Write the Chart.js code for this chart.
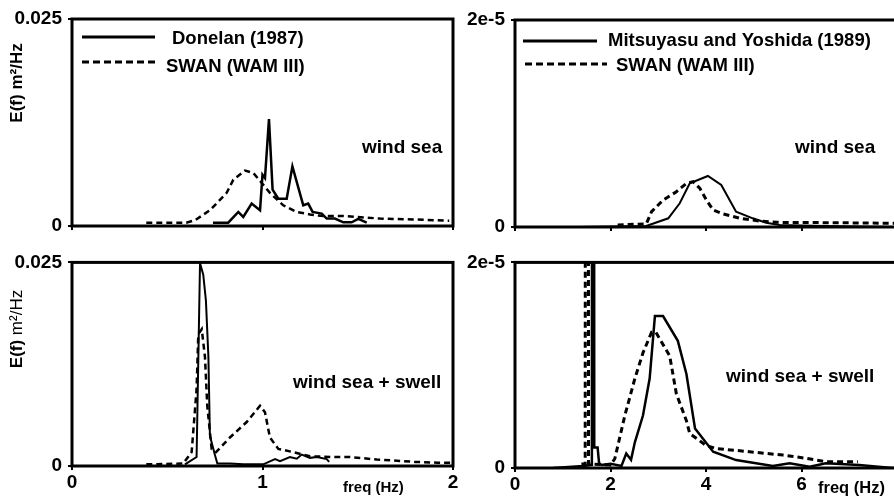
<!DOCTYPE html>
<html>
<head>
<meta charset="utf-8">
<script src="https://cdn.jsdelivr.net/npm/chart.js@4.4.0/dist/chart.umd.min.js"></script>
<style>
html, body { margin: 0; padding: 0; background: #fff; overflow: hidden; width: 894px; height: 498px; }
canvas { position: absolute; }
</style>
</head>
<body>
<canvas id="tl" width="460" height="245" style="left:0;top:0"></canvas>
<canvas id="tr" width="460" height="245" style="left:440px;top:0"></canvas>
<canvas id="bl" width="460" height="253" style="left:0;top:245px"></canvas>
<canvas id="br" width="460" height="253" style="left:440px;top:245px"></canvas>
<script>
// Donelan (1987) case, E(f) in m2/Hz
// wind sea
var dWindFreq = [0.74, 0.82, 0.873, 0.899, 0.943, 0.987, 1.0, 1.013, 1.034, 1.053, 1.083, 1.127, 1.157, 1.214, 1.24, 1.263, 1.311, 1.337, 1.38, 1.424, 1.468, 1.503, 1.547];
var dWindE = [0.0004, 0.0004, 0.0017, 0.0011, 0.0027, 0.0019, 0.0062, 0.0058, 0.0129, 0.0044, 0.0033, 0.0033, 0.0072, 0.0025, 0.0027, 0.0017, 0.0015, 0.0009, 0.0009, 0.00045, 0.00045, 0.00085, 0.0004];
var dSwanWindFreq = [0.39, 0.60, 0.646, 0.724, 0.812, 0.847, 0.908, 0.952, 0.996, 1.039, 1.109, 1.18, 1.249, 1.319, 1.424, 1.617, 1.79, 1.98];
var dSwanWindE = [0.0004, 0.0004, 0.0007, 0.0019, 0.0040, 0.0056, 0.0067, 0.0064, 0.0052, 0.0040, 0.0025, 0.0017, 0.0014, 0.0012, 0.0012, 0.0009, 0.0008, 0.00064];
// wind sea + swell
var dSwellFreq = [0.593, 0.654, 0.672, 0.689, 0.703, 0.716, 0.724, 0.751, 0.763, 0.829, 0.9, 1.004, 1.066, 1.092, 1.144, 1.18, 1.206, 1.249, 1.285, 1.337, 1.35];
var dSwellE = [0.0002, 0.0011, 0.0249, 0.0235, 0.0203, 0.0134, 0.0037, 0.0013, 0.0003, 0.0003, 0.0002, 0.0002, 0.00085, 0.0006, 0.0011, 0.0009, 0.0014, 0.0010, 0.0011, 0.00085, 0.0005];
var dSwanSwellFreq = [0.39, 0.584, 0.628, 0.654, 0.663, 0.681, 0.698, 0.71, 0.733, 0.756, 0.829, 0.917, 0.987, 1.013, 1.039, 1.083, 1.162, 1.249, 1.37, 1.46, 1.60, 1.80, 1.92, 1.99];
var dSwanSwellE = [0.0002, 0.0003, 0.0017, 0.0094, 0.0162, 0.0168, 0.0134, 0.0074, 0.0021, 0.0017, 0.0035, 0.0054, 0.0074, 0.0066, 0.0035, 0.0021, 0.0017, 0.0012, 0.0011, 0.0011, 0.0008, 0.0005, 0.0004, 0.0004];

// Mitsuyasu and Yoshida (1989) case, E(f) in units of 1e-5 m2/Hz
// wind sea
var mWindFreq = [1.3, 2.75, 3.21, 3.45, 3.66, 4.04, 4.32, 4.63, 4.98, 5.26, 5.54, 6.5, 8.0];
var mWindE = [0, 0.01, 0.084, 0.229, 0.422, 0.493, 0.406, 0.148, 0.084, 0.042, 0.02, 0.01, 0];
var mSwanWindFreq = [2.15, 2.75, 2.86, 3.1, 3.38, 3.59, 3.73, 3.87, 4.01, 4.15, 4.36, 4.71, 5.12, 5.47, 6.5, 7.5, 8.0];
var mSwanWindE = [0.02, 0.03, 0.148, 0.26, 0.341, 0.422, 0.438, 0.374, 0.26, 0.164, 0.126, 0.084, 0.058, 0.045, 0.042, 0.038, 0.035];
// wind sea + swell (swell peak runs far off the top of the axis)
var mSwellFreq = [0.8, 1.43, 1.61, 1.62, 1.65, 1.66, 1.73, 1.76, 1.81, 2.0, 2.23, 2.33, 2.43, 2.51, 2.68, 2.82, 2.93, 3.1, 3.41, 3.59, 3.77, 4.15, 4.63, 5.4, 5.75, 6.17, 6.51, 7.21, 7.9, 8.0];
var mSwellE = [0, 0.02, 0.03, 10, 10, 0.2, 0.2, 0.05, 0.03, 0.04, 0.02, 0.14, 0.08, 0.25, 0.51, 0.87, 1.478, 1.478, 1.237, 0.915, 0.384, 0.158, 0.077, 0.02, 0.045, 0.013, 0.045, 0.03, 0, 0];
var mSwanSwellFreq = [1.39, 1.47, 1.48, 1.53, 1.54, 2.0, 2.09, 2.3, 2.51, 2.68, 2.86, 2.95, 3.24, 3.38, 3.59, 3.66, 4.0, 4.21, 4.91, 5.61, 6.1, 6.51, 7.18];
var mSwanSwellE = [0.04, 0.04, 10, 10, 0.04, 0.03, 0.09, 0.51, 0.87, 1.12, 1.32, 1.32, 1.09, 0.72, 0.46, 0.335, 0.22, 0.19, 0.158, 0.126, 0.094, 0.06, 0.06];

// tick labels
var leftXTicks = [0, 1, 2];
var leftXLabels = ['0', '1', '2'];
var rightXTicks = [0, 2, 4, 6, 8];
var rightXLabels = ['0', '2', '4', '6', ''];
var leftYLabels = ['0', '0.025'];
var rightYLabels = ['0', '2e-5'];

var FONT = "'Liberation Sans', Arial, sans-serif";
var DASH = [6, 4];

var framePlugin = {
    id: 'frame',
    afterDatasetsDraw: function(chart) {
        var ctx = chart.ctx, a = chart.chartArea;
        ctx.save();
        ctx.lineWidth = 3;
        ctx.strokeStyle = '#000';
        ctx.strokeRect(a.left, a.top, a.right - a.left, a.bottom - a.top);
        ctx.restore();
    }
};

// legend samples, notes and axis titles
var decorPlugin = {
    id: 'decor',
    afterDraw: function(chart, args, o) {
        var ctx = chart.ctx;
        ctx.save();
        ctx.fillStyle = '#000';
        ctx.strokeStyle = '#000';
        ctx.textBaseline = 'middle';
        ctx.textAlign = 'left';
        (o.legend || []).forEach(function(l, i) {
            ctx.lineWidth = 3;
            ctx.setLineDash(l.dash ? [7, 4] : []);
            ctx.beginPath();
            ctx.moveTo(l.x1, l.y);
            ctx.lineTo(l.x2, l.y);
            ctx.stroke();
            ctx.setLineDash([]);
            ctx.font = 'bold 18.5px ' + FONT;
            ctx.fillText(chart.data.datasets[i].label, l.tx, l.ty);
        });
        (o.notes || []).forEach(function(n) {
            ctx.font = n.font + ' ' + FONT;
            ctx.fillText(n.text, n.x, n.y);
        });
        if (o.yTitle) {
            var t = o.yTitle;
            ctx.translate(t.x, t.y);
            ctx.rotate(-Math.PI / 2);
            var total = 0;
            t.parts.forEach(function(p) {
                ctx.font = p.font + ' ' + FONT;
                total += ctx.measureText(p.text).width;
            });
            var x = -total / 2;
            t.parts.forEach(function(p) {
                ctx.font = p.font + ' ' + FONT;
                ctx.fillText(p.text, x, 0);
                x += ctx.measureText(p.text).width;
            });
        }
        ctx.restore();
    }
};

function panel(id, o) {
    var canvas = document.getElementById(id);
    var W = canvas.width, H = canvas.height, A = o.area;
    var tickFont = { family: FONT, size: 19, weight: 'bold' };
    var grid = { drawOnChartArea: false, drawTicks: true, tickLength: 4, color: '#000', lineWidth: 2 };
    return new Chart(canvas, {
        type: 'line',
        data: {
            datasets: o.series.map(function(s) {
                return {
                    label: s.label,
                    data: s.f.map(function(f, i) { return { x: f, y: s.e[i] }; }),
                    borderColor: '#000',
                    borderWidth: s.width,
                    borderDash: s.dash ? DASH : [],
                    pointRadius: 0,
                    tension: 0,
                    fill: false
                };
            })
        },
        options: {
            responsive: false,
            animation: false,
            devicePixelRatio: 1,
            layout: { padding: { left: 0, top: A.top, right: W - A.right, bottom: 0 } },
            plugins: {
                legend: { display: false },
                tooltip: { enabled: false },
                decor: o.decor
            },
            scales: {
                x: {
                    type: 'linear',
                    min: 0,
                    max: o.xMax,
                    afterBuildTicks: function(s) { s.ticks = o.xTicks.map(function(v) { return { value: v }; }); },
                    ticks: {
                        display: o.xShow,
                        font: tickFont,
                        color: '#000',
                        padding: 1,
                        maxRotation: 0,
                        callback: function(v, i) { return o.xLabels[i]; }
                    },
                    grid: grid,
                    border: { display: false },
                    afterFit: function(s) { s.height = H - A.bottom; }
                },
                y: {
                    min: 0,
                    max: o.yMax,
                    afterBuildTicks: function(s) { s.ticks = [{ value: 0 }, { value: o.yMax }]; },
                    ticks: {
                        font: tickFont,
                        color: '#000',
                        padding: 6,
                        callback: function(v, i) { return o.yLabels[i]; }
                    },
                    grid: grid,
                    border: { display: false },
                    afterFit: function(s) { s.width = A.left; }
                }
            }
        },
        plugins: [framePlugin, decorPlugin]
    });
}

panel('tl', {
    area: { left: 72, right: 453, top: 19, bottom: 226 },
    xMax: 2, xTicks: leftXTicks, xLabels: leftXLabels, xShow: false,
    yMax: 0.025, yLabels: leftYLabels,
    series: [
        { label: 'Donelan (1987)', f: dWindFreq, e: dWindE, width: 2.5 },
        { label: 'SWAN (WAM III)', f: dSwanWindFreq, e: dSwanWindE, width: 2.5, dash: true }
    ],
    decor: {
        legend: [
            { x1: 82, x2: 155, y: 37, tx: 172, ty: 39 },
            { x1: 82, x2: 158, y: 62, tx: 166, ty: 67, dash: true }
        ],
        notes: [{ text: 'wind sea', x: 362, y: 148, font: 'bold 19px' }],
        yTitle: { x: 17, y: 83, parts: [{ text: 'E(f) m\u00b2/Hz', font: 'bold 17px' }] }
    }
});

panel('tr', {
    area: { left: 75, right: 457, top: 20, bottom: 227 },
    xMax: 8, xTicks: rightXTicks, xLabels: rightXLabels, xShow: false,
    yMax: 2, yLabels: rightYLabels,
    series: [
        { label: 'Mitsuyasu and Yoshida (1989)', f: mWindFreq, e: mWindE, width: 2 },
        { label: 'SWAN (WAM III)', f: mSwanWindFreq, e: mSwanWindE, width: 3, dash: true }
    ],
    decor: {
        legend: [
            { x1: 83, x2: 157, y: 41, tx: 168, ty: 41 },
            { x1: 85, x2: 167, y: 64, tx: 176, ty: 66, dash: true }
        ],
        notes: [{ text: 'wind sea', x: 355, y: 148, font: 'bold 19px' }]
    }
});

panel('bl', {
    area: { left: 72, right: 453, top: 14, bottom: 221 },
    xMax: 2, xTicks: leftXTicks, xLabels: leftXLabels, xShow: true,
    yMax: 0.025, yLabels: leftYLabels,
    series: [
        { label: 'Donelan (1987)', f: dSwellFreq, e: dSwellE, width: 2 },
        { label: 'SWAN (WAM III)', f: dSwanSwellFreq, e: dSwanSwellE, width: 2.5, dash: true }
    ],
    decor: {
        notes: [
            { text: 'wind sea + swell', x: 293, y: 138, font: 'bold 19px' },
            { text: 'freq (Hz)', x: 343, y: 243, font: 'bold 15px' }
        ],
        yTitle: { x: 17, y: 84, parts: [{ text: 'E(f)', font: 'bold 17px' }, { text: ' m\u00b2/Hz', font: '17px' }] }
    }
});

panel('br', {
    area: { left: 75, right: 457, top: 16, bottom: 223 },
    xMax: 8, xTicks: rightXTicks, xLabels: rightXLabels, xShow: true,
    yMax: 2, yLabels: rightYLabels,
    series: [
        { label: 'Mitsuyasu and Yoshida (1989)', f: mSwellFreq, e: mSwellE, width: 2.5 },
        { label: 'SWAN (WAM III)', f: mSwanSwellFreq, e: mSwanSwellE, width: 3, dash: true }
    ],
    decor: {
        notes: [
            { text: 'wind sea + swell', x: 286, y: 132, font: 'bold 19px' },
            { text: 'freq (Hz)', x: 378, y: 243, font: 'bold 16.5px' }
        ]
    }
});
</script>
</body>
</html>
